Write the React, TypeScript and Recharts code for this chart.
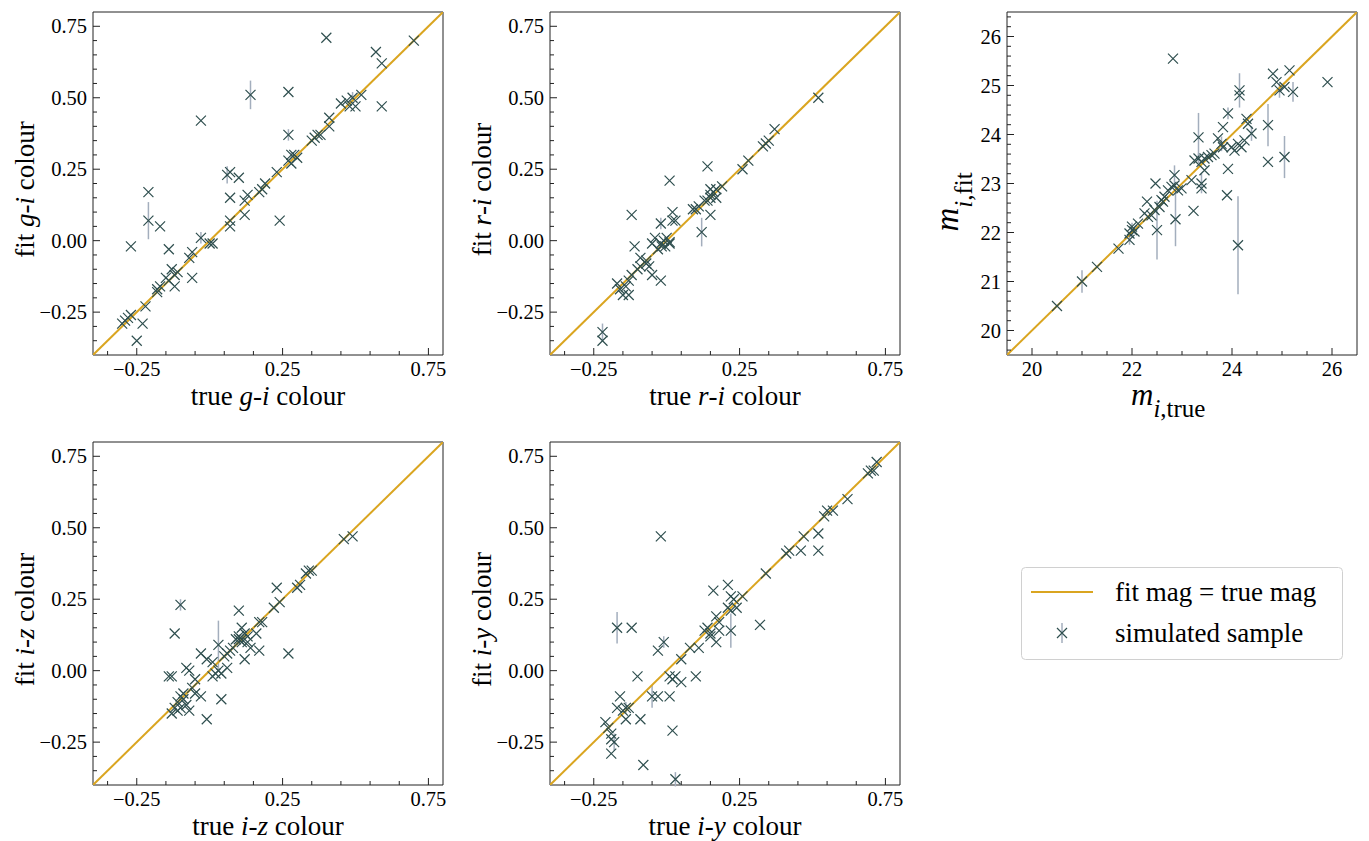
import React from "react";
import { ScatterChart, Scatter, XAxis, YAxis, ErrorBar, ReferenceArea, Label } from "recharts";

const MARKER = "#2f4f4f";
const ERR_COLOR = "#a3aebd";
const LINE_COLOR = "#daa520";
const AXIS_COLOR = "#222";
const FONT = "'Liberation Serif', 'Times New Roman', serif";

// [true, fit, error]
type P = [number, number, number];

const giPoints: P[] = [
  [0.40, 0.71, 0], [0.70, 0.70, 0], [0.57, 0.66, 0], [0.59, 0.62, 0], [0.14, 0.51, 0.05], [0.27, 0.52, 0],
  [0.59, 0.47, 0], [-0.03, 0.42, 0], [0.45, 0.48, 0], [0.47, 0.49, 0], [0.49, 0.50, 0.02], [0.50, 0.47, 0],
  [0.52, 0.51, 0], [0.48, 0.47, 0], [0.27, 0.37, 0.02], [0.41, 0.43, 0], [0.41, 0.40, 0], [0.35, 0.35, 0],
  [0.36, 0.36, 0], [0.37, 0.37, 0], [0.38, 0.37, 0], [0.27, 0.28, 0], [0.28, 0.27, 0], [0.29, 0.30, 0],
  [0.30, 0.29, 0], [0.28, 0.30, 0.01], [0.23, 0.24, 0], [0.19, 0.20, 0], [0.18, 0.18, 0], [0.17, 0.17, 0],
  [0.24, 0.07, 0], [0.06, 0.23, 0.03], [0.07, 0.24, 0], [0.10, 0.22, 0], [0.07, 0.15, 0], [0.13, 0.16, 0],
  [0.12, 0.14, 0], [0.12, 0.09, 0], [0.07, 0.07, 0], [0.07, 0.05, 0], [-0.21, 0.17, 0], [-0.21, 0.07, 0.065],
  [-0.17, 0.05, 0], [-0.27, -0.02, 0], [-0.14, -0.03, 0], [-0.03, 0.01, 0.02], [0.0, -0.01, 0], [0.01, -0.01, 0],
  [-0.06, -0.04, 0], [-0.07, -0.06, 0], [-0.06, -0.13, 0], [-0.13, -0.10, 0], [-0.12, -0.12, 0], [-0.11, -0.11, 0],
  [-0.15, -0.13, 0], [-0.12, -0.16, 0], [-0.14, -0.14, 0], [-0.18, -0.18, 0], [-0.18, -0.17, 0], [-0.17, -0.16, 0],
  [-0.22, -0.23, 0], [-0.29, -0.28, 0], [-0.28, -0.27, 0], [-0.30, -0.29, 0], [-0.27, -0.26, 0], [-0.23, -0.29, 0],
  [-0.25, -0.35, 0],
];

const riPoints: P[] = [
  [0.52, 0.50, 0], [0.37, 0.39, 0], [0.33, 0.33, 0], [0.34, 0.34, 0], [0.35, 0.35, 0], [0.28, 0.28, 0],
  [0.26, 0.25, 0], [0.14, 0.26, 0], [0.01, 0.21, 0], [0.15, 0.15, 0], [0.15, 0.16, 0], [0.14, 0.14, 0],
  [0.16, 0.17, 0], [0.17, 0.18, 0], [0.19, 0.19, 0], [0.13, 0.14, 0], [0.15, 0.18, 0], [0.17, 0.15, 0],
  [0.15, 0.09, 0], [0.12, 0.03, 0.05], [0.09, 0.11, 0], [0.10, 0.11, 0], [0.11, 0.12, 0], [-0.12, 0.09, 0],
  [0.02, 0.10, 0], [0.03, 0.07, 0], [0.02, 0.07, 0], [-0.02, 0.06, 0.02], [-0.04, 0.01, 0], [-0.02, -0.01, 0],
  [-0.01, 0.0, 0], [-0.005, -0.02, 0], [0.01, -0.005, 0], [-0.03, -0.03, 0], [-0.017, -0.02, 0], [0.0, 0.01, 0],
  [-0.05, -0.01, 0], [0.01, -0.01, 0], [-0.11, -0.02, 0], [-0.09, -0.06, 0], [-0.07, -0.07, 0], [-0.09, -0.09, 0],
  [-0.10, -0.10, 0], [-0.06, -0.09, 0], [-0.05, -0.12, 0], [-0.07, -0.08, 0], [-0.02, -0.14, 0], [-0.12, -0.12, 0],
  [-0.13, -0.14, 0], [-0.14, -0.16, 0], [-0.16, -0.17, 0], [-0.17, -0.15, 0], [-0.15, -0.19, 0], [-0.13, -0.19, 0],
  [-0.22, -0.32, 0.03], [-0.22, -0.35, 0],
];

const magPoints: P[] = [
  [20.5, 20.5, 0], [21.0, 21.0, 0.23], [21.3, 21.3, 0], [21.73, 21.67, 0], [21.95, 21.98, 0], [22.0, 22.05, 0.15],
  [22.05, 22.02, 0], [22.0, 22.12, 0], [21.95, 21.85, 0.1], [22.12, 22.18, 0], [22.3, 22.63, 0], [22.25, 22.39, 0],
  [22.32, 22.32, 0], [22.39, 22.35, 0], [22.45, 22.46, 0], [22.47, 23.0, 0], [22.5, 22.05, 0.6], [22.55, 22.52, 0],
  [22.59, 22.66, 0], [22.62, 22.63, 0], [22.65, 22.73, 0], [22.72, 22.86, 0], [22.79, 22.93, 0], [22.85, 22.96, 0],
  [22.92, 22.86, 0], [22.99, 22.9, 0], [22.85, 23.17, 0.2], [22.87, 22.27, 0.55], [22.82, 25.55, 0], [23.23, 22.44, 0],
  [23.19, 23.07, 0], [23.33, 23.94, 0.5], [23.25, 23.47, 0], [23.33, 23.51, 0.1], [23.39, 23.44, 0], [23.45, 23.51, 0],
  [23.52, 23.54, 0], [23.59, 23.58, 0], [23.65, 23.61, 0], [23.39, 23.0, 0.2], [23.39, 22.9, 0], [23.45, 23.27, 0],
  [23.72, 23.92, 0], [23.79, 23.81, 0.15], [23.82, 23.74, 0], [23.82, 24.15, 0], [23.92, 24.43, 0.12], [23.92, 23.3, 0],
  [23.9, 22.76, 0], [23.99, 23.74, 0], [24.05, 23.67, 0], [24.12, 23.81, 0], [24.19, 23.74, 0], [24.15, 24.9, 0.35],
  [24.15, 24.8, 0], [24.12, 21.74, 1.0], [24.29, 24.32, 0], [24.32, 24.22, 0], [24.25, 23.88, 0], [24.39, 24.02, 0.15],
  [24.72, 24.19, 0.43], [24.72, 23.44, 0], [24.82, 25.24, 0], [24.89, 25.07, 0], [24.95, 24.9, 0.15], [25.15, 25.31, 0],
  [25.22, 24.87, 0.2], [25.05, 24.97, 0], [25.05, 23.54, 0.43], [25.91, 25.07, 0],
];

const izPoints: P[] = [
  [0.46, 0.46, 0], [0.49, 0.47, 0], [0.33, 0.34, 0], [0.34, 0.35, 0], [0.35, 0.35, 0], [0.30, 0.29, 0],
  [0.31, 0.30, 0], [0.23, 0.29, 0], [0.22, 0.22, 0], [0.24, 0.24, 0], [0.17, 0.17, 0], [0.27, 0.06, 0],
  [0.10, 0.21, 0], [-0.10, 0.23, 0.02], [-0.12, 0.13, 0], [-0.08, 0.01, 0], [-0.07, 0.0, 0], [-0.13, -0.02, 0],
  [-0.14, -0.02, 0], [-0.03, 0.06, 0], [-0.01, 0.04, 0], [0.03, 0.09, 0.085], [0.05, 0.05, 0], [0.06, 0.06, 0],
  [0.07, 0.07, 0], [0.08, 0.08, 0], [0.09, 0.11, 0], [0.10, 0.12, 0], [0.10, 0.11, 0], [0.11, 0.10, 0],
  [0.11, 0.11, 0], [0.12, 0.13, 0], [0.13, 0.12, 0], [0.13, 0.10, 0], [0.11, 0.15, 0], [0.12, 0.04, 0],
  [0.17, 0.07, 0], [0.16, 0.13, 0], [0.18, 0.17, 0], [0.14, 0.08, 0], [0.01, 0.03, 0], [0.03, 0.0, 0],
  [0.04, -0.01, 0], [0.06, 0.01, 0], [0.01, -0.02, 0], [0.02, -0.01, 0], [0.04, -0.10, 0], [-0.01, -0.17, 0],
  [-0.06, -0.06, 0], [-0.05, -0.08, 0], [-0.03, -0.09, 0], [-0.05, -0.03, 0], [-0.09, -0.10, 0], [-0.08, -0.12, 0],
  [-0.07, -0.14, 0], [-0.10, -0.09, 0], [-0.11, -0.11, 0], [-0.12, -0.13, 0.01], [-0.11, -0.14, 0], [-0.13, -0.15, 0],
  [-0.10, -0.13, 0], [-0.09, -0.08, 0],
];

const iyPoints: P[] = [
  [0.72, 0.73, 0], [0.70, 0.70, 0], [0.69, 0.69, 0], [0.71, 0.70, 0], [0.62, 0.60, 0], [0.54, 0.54, 0],
  [0.55, 0.56, 0], [0.57, 0.56, 0], [0.52, 0.48, 0], [0.52, 0.42, 0], [0.47, 0.47, 0], [0.46, 0.42, 0],
  [0.42, 0.42, 0], [0.41, 0.41, 0], [0.34, 0.34, 0], [-0.02, 0.47, 0], [0.16, 0.28, 0], [0.21, 0.30, 0],
  [0.22, 0.26, 0], [0.26, 0.26, 0], [0.23, 0.25, 0], [0.21, 0.22, 0], [0.22, 0.21, 0], [0.24, 0.22, 0],
  [0.22, 0.14, 0.06], [0.32, 0.16, 0], [0.17, 0.19, 0], [0.14, 0.15, 0], [0.13, 0.14, 0], [0.15, 0.13, 0],
  [0.18, 0.17, 0], [0.15, 0.12, 0], [0.17, 0.10, 0], [0.18, 0.14, 0], [0.11, 0.08, 0], [0.08, 0.08, 0],
  [0.05, 0.04, 0], [-0.17, 0.15, 0.055], [-0.12, 0.15, 0], [-0.03, 0.07, 0], [-0.01, 0.10, 0.02], [-0.10, -0.02, 0],
  [0.01, -0.02, 0], [0.02, -0.03, 0], [0.03, -0.02, 0], [0.05, -0.04, 0], [0.10, -0.02, 0], [-0.05, -0.09, 0.04],
  [-0.03, -0.09, 0], [0.01, -0.09, 0], [-0.16, -0.09, 0], [-0.15, -0.14, 0], [-0.14, -0.13, 0.02], [-0.13, -0.13, 0],
  [-0.17, -0.13, 0], [-0.14, -0.17, 0], [-0.09, -0.17, 0], [-0.21, -0.18, 0], [-0.20, -0.20, 0], [-0.19, -0.22, 0],
  [-0.19, -0.24, 0], [-0.18, -0.25, 0.03], [-0.19, -0.29, 0], [-0.08, -0.33, 0], [0.02, -0.21, 0], [0.03, -0.38, 0.025],
];

// axis ranges and ticks
const colourRange: [number, number] = [-0.4, 0.8];
const colourXMajor = [-0.25, 0.25, 0.75];
const colourXMinor = [-0.35, -0.15, -0.05, 0.05, 0.15, 0.35, 0.45, 0.55, 0.65];
const colourYMajor = [-0.25, 0, 0.25, 0.5, 0.75];
const colourYMinor = [
  -0.35, -0.3, -0.2, -0.15, -0.1, -0.05, 0.05, 0.1, 0.15, 0.2, 0.3, 0.35, 0.4, 0.45, 0.55, 0.6, 0.65, 0.7,
];
const magRange: [number, number] = [19.5, 26.5];
const magXMajor = [20, 22, 24, 26];
const magXMinor = [20.5, 21, 21.5, 22.5, 23, 23.5, 24.5, 25, 25.5];
const magYMajor = [20, 21, 22, 23, 24, 25, 26];
const magYMinor = [
  19.6, 19.8, 20.2, 20.4, 20.6, 20.8, 21.2, 21.4, 21.6, 21.8, 22.2, 22.4, 22.6, 22.8, 23.2, 23.4, 23.6, 23.8,
  24.2, 24.4, 24.6, 24.8, 25.2, 25.4, 25.6, 25.8, 26.2, 26.4,
];

const PLOT_W = 350;
const PLOT_H = 343;
const Y_AXIS_W = 90;
const X_AXIS_H = 80;
const M_TOP = 10;
const M_RIGHT = 10;
const TICK_FONT = 20.5;
const LABEL_FONT = 27;

const fmtColour = (v: number) => (v < 0 ? "\u2212" : "") + Math.abs(v).toFixed(2);
const fmtMag = (v: number) => String(v);

const isIn = (list: number[], v: number) => list.some((m) => Math.abs(m - v) < 1e-6);

function bottomTick(major: number[], fmt: (v: number) => string) {
  return (props: any) => {
    const { x, y, payload } = props;
    const big = isIn(major, payload.value);
    return (
      <g>
        <line x1={x} x2={x} y1={y} y2={y - (big ? 7 : 4)} stroke={AXIS_COLOR} strokeWidth={1} />
        {big && (
          <text x={x} y={y + 21} textAnchor="middle" fontSize={TICK_FONT} fill="#000" fontFamily={FONT}>
            {fmt(payload.value)}
          </text>
        )}
      </g>
    );
  };
}

function leftTick(major: number[], fmt: (v: number) => string) {
  return (props: any) => {
    const { x, y, payload } = props;
    const big = isIn(major, payload.value);
    return (
      <g>
        <line x1={x} x2={x + (big ? 7 : 4)} y1={y} y2={y} stroke={AXIS_COLOR} strokeWidth={1} />
        {big && (
          <text x={x - 6} y={y + 7} textAnchor="end" fontSize={TICK_FONT} fill="#000" fontFamily={FONT}>
            {fmt(payload.value)}
          </text>
        )}
      </g>
    );
  };
}

const XMark = (props: any) => {
  const { cx, cy } = props;
  const s = 5;
  return (
    <path
      d={`M${cx - s},${cy - s}L${cx + s},${cy + s}M${cx - s},${cy + s}L${cx + s},${cy - s}`}
      stroke={MARKER}
      strokeWidth={1.2}
      fill="none"
    />
  );
};

const NoMark = () => <g />;

function colourXLabel(a: string, b: string) {
  return (props: any) => {
    const vb = props.viewBox;
    return (
      <text x={vb.x + vb.width / 2} y={vb.y + 50} textAnchor="middle" fontSize={LABEL_FONT} fontFamily={FONT} fill="#000">
        true <tspan fontStyle="italic">{a}</tspan>-<tspan fontStyle="italic">{b}</tspan> colour
      </text>
    );
  };
}

function colourYLabel(a: string, b: string) {
  return (props: any) => {
    const vb = props.viewBox;
    const x = vb.x + vb.width - 59;
    const y = vb.y + vb.height / 2 + 6;
    return (
      <text x={x} y={y} transform={`rotate(-90, ${x}, ${y})`} textAnchor="middle" fontSize={LABEL_FONT} fontFamily={FONT} fill="#000">
        fit <tspan fontStyle="italic">{a}</tspan>-<tspan fontStyle="italic">{b}</tspan> colour
      </text>
    );
  };
}

const magXLabel = (props: any) => {
  const vb = props.viewBox;
  const x = vb.x + 124;
  const y = vb.y + 50;
  return (
    <text x={x} y={y} fontFamily={FONT} fill="#000">
      <tspan fontStyle="italic" fontSize={31}>m</tspan>
      <tspan dy={12} fontSize={25} fontStyle="italic">i</tspan>
      <tspan fontSize={25}>,true</tspan>
    </text>
  );
};

const magYLabel = (props: any) => {
  const vb = props.viewBox;
  const x = vb.x + vb.width - 49;
  const y = vb.y + vb.height / 2 + 48;
  return (
    <text x={x} y={y} transform={`rotate(-90, ${x}, ${y})`} fontFamily={FONT} fill="#000">
      <tspan fontStyle="italic" fontSize={33}>m</tspan>
      <tspan dy={14} fontSize={25} fontStyle="italic">i</tspan>
      <tspan fontSize={25}>,fit</tspan>
    </text>
  );
};

interface PanelProps {
  left: number;
  top: number;
  points: P[];
  range: [number, number];
  xMajor: number[];
  xMinor: number[];
  yMajor: number[];
  yMinor: number[];
  fmt: (v: number) => string;
  xLabel: (props: any) => React.ReactElement;
  yLabel: (props: any) => React.ReactElement;
}

function Panel({ left, top, points, range, xMajor, xMinor, yMajor, yMinor, fmt, xLabel, yLabel }: PanelProps) {
  const data = points.map(([x, y, err]) => ({ x, y, err }));
  const diag = [
    { x: range[0], y: range[0] },
    { x: range[1], y: range[1] },
  ];
  const xTicks = [...xMajor, ...xMinor].sort((a, b) => a - b);
  const yTicks = [...yMajor, ...yMinor].sort((a, b) => a - b);
  return (
    <div style={{ position: "absolute", left, top }}>
      <ScatterChart
        width={Y_AXIS_W + PLOT_W + M_RIGHT}
        height={M_TOP + PLOT_H + X_AXIS_H}
        margin={{ top: M_TOP, right: M_RIGHT, bottom: 0, left: 0 }}
      >
        <XAxis
          type="number"
          dataKey="x"
          domain={range}
          allowDataOverflow
          ticks={xTicks}
          interval={0}
          tick={bottomTick(xMajor, fmt)}
          tickLine={false}
          axisLine={false}
          tickSize={0}
          tickMargin={0}
          height={X_AXIS_H}
        >
          <Label content={xLabel} />
        </XAxis>
        <YAxis
          type="number"
          dataKey="y"
          domain={range}
          allowDataOverflow
          ticks={yTicks}
          interval={0}
          tick={leftTick(yMajor, fmt)}
          tickLine={false}
          axisLine={false}
          tickSize={0}
          tickMargin={0}
          width={Y_AXIS_W}
        >
          <Label content={yLabel} />
        </YAxis>
        <Scatter
          data={diag}
          line={{ stroke: LINE_COLOR, strokeWidth: 2 }}
          shape={NoMark}
          isAnimationActive={false}
        />
        <Scatter data={data} shape={XMark} isAnimationActive={false}>
          <ErrorBar dataKey="err" direction="y" width={0} stroke={ERR_COLOR} strokeWidth={1.5} />
        </Scatter>
        <ReferenceArea
          x1={range[0]}
          x2={range[1]}
          y1={range[0]}
          y2={range[1]}
          fill="none"
          fillOpacity={0}
          stroke={AXIS_COLOR}
          strokeWidth={1}
        />
      </ScatterChart>
    </div>
  );
}

function LegendBox() {
  return (
    <div style={{ position: "absolute", left: 1021, top: 567 }}>
      <svg width={323} height={94}>
        <rect x={0.5} y={0.5} width={321} height={92} rx={4} fill="#fff" stroke="#d0d0d0" />
        <line x1={10} x2={72} y1={25} y2={25} stroke={LINE_COLOR} strokeWidth={2} />
        <text x={94} y={34} fontSize={LABEL_FONT} fontFamily={FONT} fill="#000">fit mag = true mag</text>
        <line x1={41} x2={41} y1={56} y2={76} stroke={ERR_COLOR} strokeWidth={1.5} />
        <path d="M36,61L46,71M36,71L46,61" stroke={MARKER} strokeWidth={1.2} fill="none" />
        <text x={94} y={75} fontSize={LABEL_FONT} fontFamily={FONT} fill="#000">simulated sample</text>
      </svg>
    </div>
  );
}

export default function App() {
  return (
    <div
      style={{
        position: "absolute",
        left: 0,
        top: 0,
        width: 1369,
        height: 841,
        background: "#fff",
        fontFamily: FONT,
      }}
    >
      <Panel left={3} top={2} points={giPoints} range={colourRange} xMajor={colourXMajor} xMinor={colourXMinor}
        yMajor={colourYMajor} yMinor={colourYMinor} fmt={fmtColour}
        xLabel={colourXLabel("g", "i")} yLabel={colourYLabel("g", "i")} />
      <Panel left={460} top={2} points={riPoints} range={colourRange} xMajor={colourXMajor} xMinor={colourXMinor}
        yMajor={colourYMajor} yMinor={colourYMinor} fmt={fmtColour}
        xLabel={colourXLabel("r", "i")} yLabel={colourYLabel("r", "i")} />
      <Panel left={917} top={2} points={magPoints} range={magRange} xMajor={magXMajor} xMinor={magXMinor}
        yMajor={magYMajor} yMinor={magYMinor} fmt={fmtMag}
        xLabel={magXLabel} yLabel={magYLabel} />
      <Panel left={3} top={432} points={izPoints} range={colourRange} xMajor={colourXMajor} xMinor={colourXMinor}
        yMajor={colourYMajor} yMinor={colourYMinor} fmt={fmtColour}
        xLabel={colourXLabel("i", "z")} yLabel={colourYLabel("i", "z")} />
      <Panel left={460} top={432} points={iyPoints} range={colourRange} xMajor={colourXMajor} xMinor={colourXMinor}
        yMajor={colourYMajor} yMinor={colourYMinor} fmt={fmtColour}
        xLabel={colourXLabel("i", "y")} yLabel={colourYLabel("i", "y")} />
      <LegendBox />
    </div>
  );
}
